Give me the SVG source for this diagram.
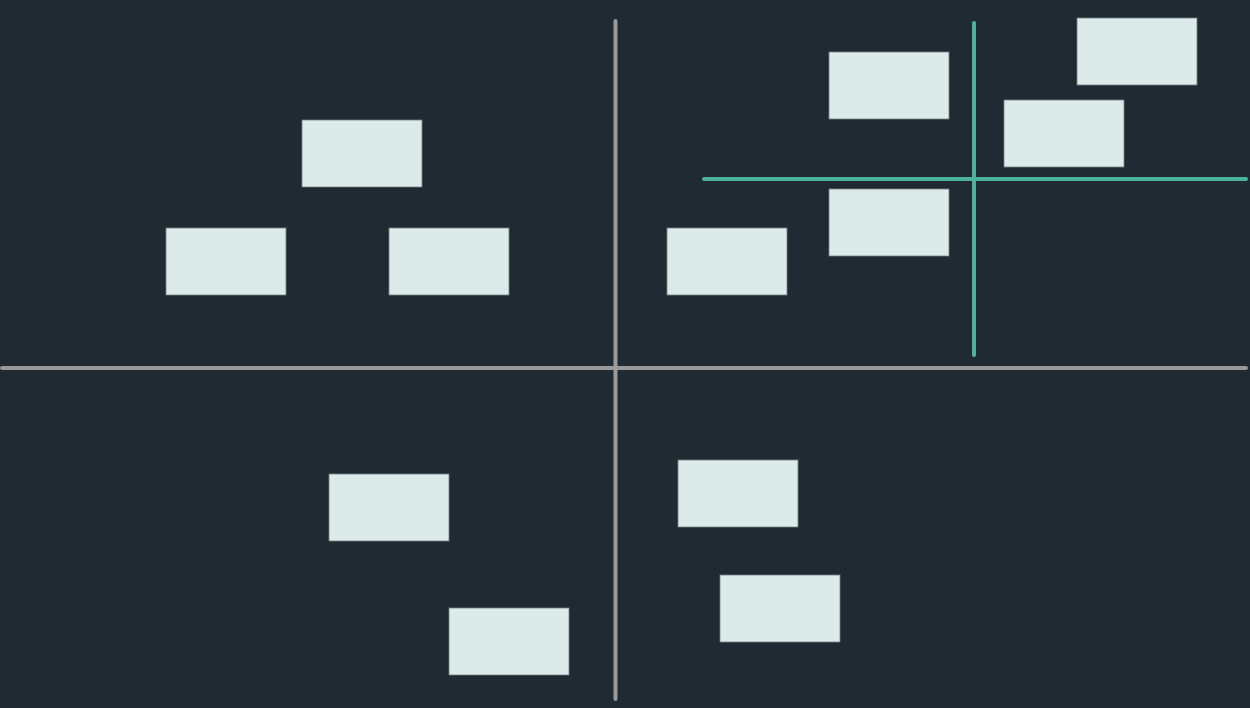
<svg xmlns="http://www.w3.org/2000/svg" width="1250" height="708" viewBox="0 0 1250 708">
<style>
.n{fill:#ddeaea;stroke:#6f8080;stroke-width:0.8}
.ax{stroke:#9a9a9a;stroke-width:4;stroke-linecap:round;fill:none}
.tl{stroke:#4db39e;stroke-width:4;stroke-linecap:round;fill:none}
</style>
<rect width="1250" height="708" fill="#202a33"/>
<g id="connectors">
<line class="ax" x1="615.5" y1="21" x2="615.5" y2="699"/>
<line class="ax" x1="2" y1="368" x2="1246" y2="368"/>
<line class="tl" x1="974" y1="23" x2="974" y2="355"/>
<line class="tl" x1="704" y1="179" x2="1246" y2="179"/>
</g>
<g id="n1"><rect class="n" x="302" y="120" width="120" height="67"/></g>
<g id="n2"><rect class="n" x="166" y="228" width="120" height="67"/></g>
<g id="n3"><rect class="n" x="389" y="228" width="120" height="67"/></g>
<g id="n4"><rect class="n" x="667" y="228" width="120" height="67"/></g>
<g id="n5"><rect class="n" x="829" y="52" width="120" height="67"/></g>
<g id="n6"><rect class="n" x="829" y="189" width="120" height="67"/></g>
<g id="n7"><rect class="n" x="1004" y="100" width="120" height="67"/></g>
<g id="n8"><rect class="n" x="1077" y="18" width="120" height="67"/></g>
<g id="n9"><rect class="n" x="329" y="474" width="120" height="67"/></g>
<g id="n10"><rect class="n" x="449" y="608" width="120" height="67"/></g>
<g id="n11"><rect class="n" x="678" y="460" width="120" height="67"/></g>
<g id="n12"><rect class="n" x="720" y="575" width="120" height="67"/></g>
</svg>
